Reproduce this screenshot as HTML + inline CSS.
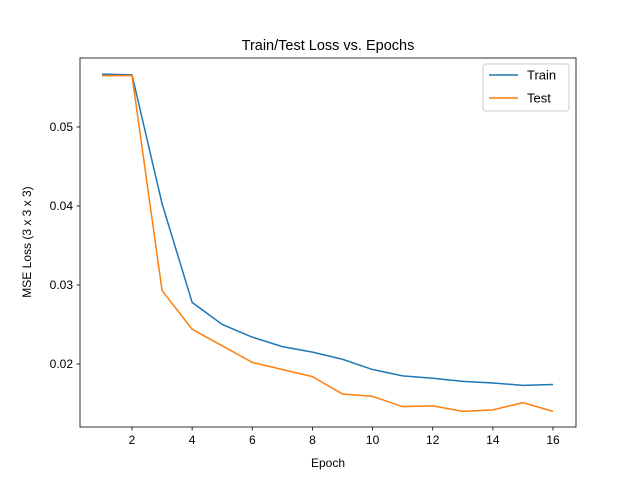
<!DOCTYPE html>
<html><head><meta charset="utf-8"><style>body{margin:0;background:#fff}svg{font-family:"Liberation Sans","DejaVu Sans",sans-serif}</style></head>
<body>
<svg width="640" height="480">
<rect width="640" height="480" fill="#fff"/>
<g id="plot"></g>
</svg>
<script>
const epochs=[1,2,3,4,5,6,7,8,9,10,11,12,13,14,15,16];
const trainLoss=[0.0567,0.0566,0.0403,0.0278,0.0250,0.0234,0.0222,0.0215,0.0206,0.0193,0.0185,0.0182,0.0178,0.0176,0.0173,0.0174];
const testLoss=[0.0565,0.0565,0.0293,0.0244,0.0223,0.0202,0.0193,0.0184,0.0162,0.0159,0.0146,0.0147,0.0140,0.0142,0.0151,0.0140];
const xTicks=[2,4,6,8,10,12,14,16];
const yTicks=[0.02,0.03,0.04,0.05];
const yTickLabels=["0.02","0.03","0.04","0.05"];
const L=80,R=576,T=58,B=427;
const xs=v=>132+(v-2)*(553-132)/14;
const ys=v=>127+(0.05-v)*7900;
const NS="http://www.w3.org/2000/svg";
const g=document.getElementById('plot');
function mk(t,a,p){const e=document.createElementNS(NS,t);for(const k in a)e.setAttribute(k,a[k]);(p||g).appendChild(e);return e;}
// series
[[trainLoss,'#1f77b4','train-line'],[testLoss,'#ff7f0e','test-line']].forEach(([d,c,n])=>{
 const p=mk('polyline',{points:d.map((v,i)=>xs(epochs[i])+','+ys(v)).join(' '),fill:'none',stroke:c,'stroke-width':1.5});
 
 
});
const fr=mk('rect',{x:L,y:T,width:R-L,height:B-T,fill:'none',stroke:'#000','stroke-width':0.8});


xTicks.forEach(v=>{
 mk('line',{x1:xs(v),x2:xs(v),y1:B,y2:B+3.5,stroke:'#000','stroke-width':0.8});
 const t=mk('text',{x:xs(v),y:B+17,'text-anchor':'middle','font-size':12});t.textContent=v;
 
 
});
yTicks.forEach((v,i)=>{
 mk('line',{x1:L-3.5,x2:L,y1:ys(v),y2:ys(v),stroke:'#000','stroke-width':0.8});
 const t=mk('text',{x:L-7,y:ys(v)+4,'text-anchor':'end','font-size':12});t.textContent=yTickLabels[i];
 
 
});
let t=mk('text',{x:328,y:50,'text-anchor':'middle','font-size':14.5});t.textContent='Train/Test Loss vs. Epochs';


t=mk('text',{x:328,y:467,'text-anchor':'middle','font-size':12});t.textContent='Epoch';


t=mk('text',{x:0,y:0,'text-anchor':'middle','font-size':12,transform:'translate(31,242) rotate(-90)'});t.textContent='MSE Loss (3 x 3 x 3)';


const lg=mk('g',{});


mk('rect',{x:483,y:64,width:86,height:47,rx:3,fill:'#fff',stroke:'#ccc'},lg);
[['Train','#1f77b4',75],['Test','#ff7f0e',98]].forEach(([n,c,y])=>{
 mk('line',{x1:489,x2:518,y1:y,y2:y,stroke:c,'stroke-width':1.5},lg);
 const e=mk('text',{x:527,y:y+4.5,'font-size':13},lg);e.textContent=n;
 
 
});
</script>
</body></html>
